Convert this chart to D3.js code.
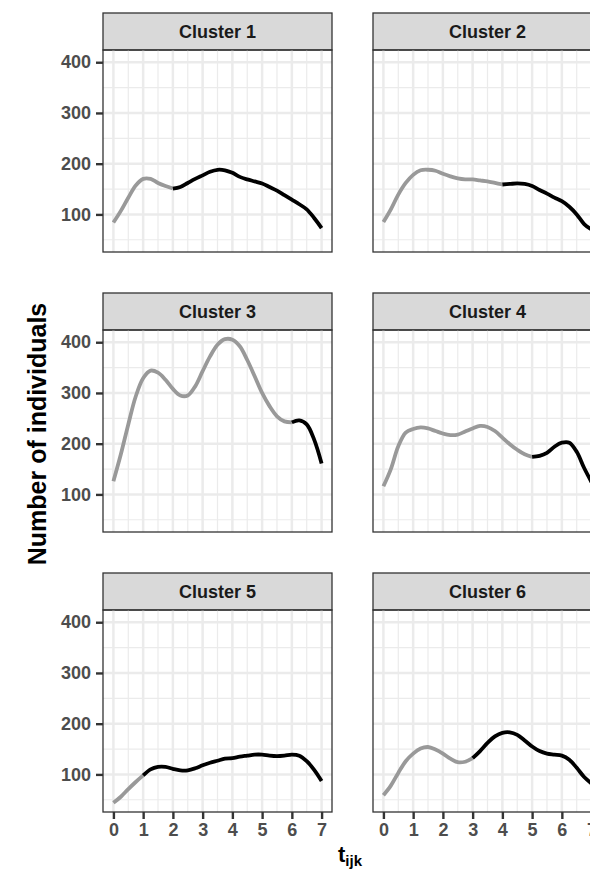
<!DOCTYPE html>
<html>
<head>
<meta charset="utf-8">
<script src="https://cdn.jsdelivr.net/npm/d3@7"></script>
<style>
  body { margin: 0; background: #fff; }
  svg { display: block; font-family: "Liberation Sans", Arial, sans-serif; }
</style>
</head>
<body>
<div id="chart"></div>
<script>
// data, one value every quarter step of t
const times = [0, 0.25, 0.5, 0.75, 1, 1.25, 1.5, 1.75, 2, 2.25, 2.5, 2.75, 3, 3.25, 3.5, 3.75,
  4, 4.25, 4.5, 4.75, 5, 5.25, 5.5, 5.75, 6, 6.25, 6.5, 6.75, 7];

const cluster1 = [84, 107, 133, 157, 170, 170, 162, 156, 151, 154, 162, 170, 177, 184, 188, 187,
  182, 174, 169, 165, 161, 154, 147, 138, 129, 120, 110, 93, 73];
const cluster2 = [85, 110, 139, 162, 178, 187, 188, 186, 180, 175, 171, 169, 169, 167, 165, 162,
  159, 160, 161, 160, 156, 148, 141, 133, 126, 115, 100, 81, 70];
const cluster3 = [126, 179, 238, 293, 329, 344, 340, 326, 308, 295, 295, 313, 343, 372, 395, 406,
  405, 392, 365, 333, 300, 274, 254, 244, 242, 246, 238, 208, 161];
const cluster4 = [116, 150, 195, 222, 229, 232, 230, 225, 220, 217, 218, 224, 230, 235, 233, 225,
  212, 199, 188, 179, 174, 176, 182, 194, 202, 202, 184, 152, 124];
const cluster5 = [44, 56, 71, 85, 98, 110, 115, 115, 111, 108, 108, 112, 118, 123, 127, 131,
  132, 135, 137, 139, 139, 137, 136, 137, 139, 137, 126, 109, 87];
const cluster6 = [59, 78, 103, 126, 141, 151, 154, 149, 141, 131, 124, 125, 132, 146, 162, 175,
  182, 183, 178, 167, 155, 146, 141, 139, 137, 129, 113, 95, 82];

const clusterNames = ['Cluster 1', 'Cluster 2', 'Cluster 3', 'Cluster 4', 'Cluster 5', 'Cluster 6'];
const clusterValues = [cluster1, cluster2, cluster3, cluster4, cluster5, cluster6];
// time where the curve turns from grey to black
const splitTimes = [2, 4, 6, 5, 1, 3];

const xTicks = [0, 1, 2, 3, 4, 5, 6, 7];
const yTicks = [100, 200, 300, 400];
const yMinorTicks = [50, 150, 250, 350];

// layout
const svgWidth = 590;
const svgHeight = 872;
const panelLeft = 103;
const stripTop = 13;
const panelW = 229;
const colGap = 41;
const stripH = 37;
const panelH = 202;
const rowPitch = 280;

const svg = d3.select('#chart')
  .append('svg')
  .attr('width', svgWidth)
  .attr('height', svgHeight);

// scales with 5% expansion like ggplot
const xExt = d3.extent(times);
const xPad = (xExt[1] - xExt[0]) * 0.05;
const xScale = d3.scaleLinear()
  .domain([xExt[0] - xPad, xExt[1] + xPad])
  .range([0, panelW]);

const yExt = d3.extent(clusterValues.flat());
const yPad = (yExt[1] - yExt[0]) * 0.05;
const yScale = d3.scaleLinear()
  .domain([yExt[0] - yPad, yExt[1] + yPad])
  .range([panelH, 0]);

const xMinorTicks = d3.pairs(xTicks).map(([a, b]) => (a + b) / 2);

const line = d3.line()
  .x(d => xScale(d.t))
  .y(d => yScale(d.v))
  .curve(d3.curveCatmullRom.alpha(0.5));

clusterNames.forEach((name, i) => {
  const col = i % 2;
  const row = Math.floor(i / 2);
  const g = svg.append('g')
    .attr('transform', `translate(${panelLeft + col * (panelW + colGap)}, ${stripTop + row * rowPitch})`);

  // strip
  g.append('rect')
    .attr('width', panelW)
    .attr('height', stripH)
    .attr('fill', '#D9D9D9')
    .attr('stroke', '#333333')
    .attr('stroke-width', 1.3);
  g.append('text')
    .attr('x', panelW / 2)
    .attr('y', stripH / 2)
    .attr('dy', '0.36em')
    .attr('text-anchor', 'middle')
    .attr('font-size', '18px')
    .attr('font-weight', 'bold')
    .attr('fill', '#1A1A1A')
    .text(name);

  const p = g.append('g').attr('transform', `translate(0, ${stripH})`);

  // grid lines
  p.selectAll('.xminor').data(xMinorTicks).enter().append('line')
    .attr('x1', d => xScale(d)).attr('x2', d => xScale(d))
    .attr('y1', 0).attr('y2', panelH)
    .attr('stroke', '#EBEBEB').attr('stroke-width', 1.2);
  p.selectAll('.yminor').data(yMinorTicks).enter().append('line')
    .attr('x1', 0).attr('x2', panelW)
    .attr('y1', d => yScale(d)).attr('y2', d => yScale(d))
    .attr('stroke', '#EBEBEB').attr('stroke-width', 1.2);
  p.selectAll('.xmajor').data(xTicks).enter().append('line')
    .attr('x1', d => xScale(d)).attr('x2', d => xScale(d))
    .attr('y1', 0).attr('y2', panelH)
    .attr('stroke', '#EBEBEB').attr('stroke-width', 2.5);
  p.selectAll('.ymajor').data(yTicks).enter().append('line')
    .attr('x1', 0).attr('x2', panelW)
    .attr('y1', d => yScale(d)).attr('y2', d => yScale(d))
    .attr('stroke', '#EBEBEB').attr('stroke-width', 2.5);

  // curve: grey before split, black after
  const pts = times.map((t, k) => ({ t: t, v: clusterValues[i][k] }));
  const split = splitTimes[i];
  p.append('path')
    .datum(pts.filter(d => d.t <= split))
    .attr('d', line)
    .attr('fill', 'none')
    .attr('stroke', '#999999')
    .attr('stroke-width', 3.8);
  p.append('path')
    .datum(pts.filter(d => d.t >= split))
    .attr('d', line)
    .attr('fill', 'none')
    .attr('stroke', '#000000')
    .attr('stroke-width', 3.8);

  // panel border
  p.append('rect')
    .attr('width', panelW)
    .attr('height', panelH)
    .attr('fill', 'none')
    .attr('stroke', '#333333')
    .attr('stroke-width', 1.3);

  // y axis on left column
  if (col === 0) {
    const yAxis = p.append('g')
      .call(d3.axisLeft(yScale).tickValues(yTicks).tickSize(7).tickPadding(5));
    yAxis.select('.domain').remove();
    yAxis.selectAll('line').attr('stroke', '#333333').attr('stroke-width', 2.4);
    yAxis.selectAll('text')
      .attr('font-size', '18px')
      .attr('font-weight', 'bold')
      .attr('font-family', '"Liberation Sans", Arial, sans-serif')
      .attr('fill', '#4D4D4D');
  }

  // x axis on bottom row
  if (row === 2) {
    const xAxis = p.append('g')
      .attr('transform', `translate(0, ${panelH})`)
      .call(d3.axisBottom(xScale).tickValues(xTicks).tickSize(7).tickPadding(4));
    xAxis.select('.domain').remove();
    xAxis.selectAll('line').attr('stroke', '#333333').attr('stroke-width', 2.4);
    xAxis.selectAll('text')
      .attr('font-size', '18px')
      .attr('font-weight', 'bold')
      .attr('font-family', '"Liberation Sans", Arial, sans-serif')
      .attr('fill', '#4D4D4D');
  }
});

// axis titles
svg.append('text')
  .attr('transform', `translate(46, 434) rotate(-90)`)
  .attr('text-anchor', 'middle')
  .attr('font-size', '25px')
  .attr('font-weight', 'bold')
  .attr('fill', '#000')
  .text('Number of individuals');

const xTitle = svg.append('text')
  .attr('x', 338)
  .attr('y', 862)
  .attr('font-size', '22px')
  .attr('font-weight', 'bold')
  .attr('fill', '#000');
xTitle.append('tspan').text('t');
xTitle.append('tspan')
  .attr('dy', 4)
  .attr('font-size', '15px')
  .text('ijk');
</script>
</body>
</html>
